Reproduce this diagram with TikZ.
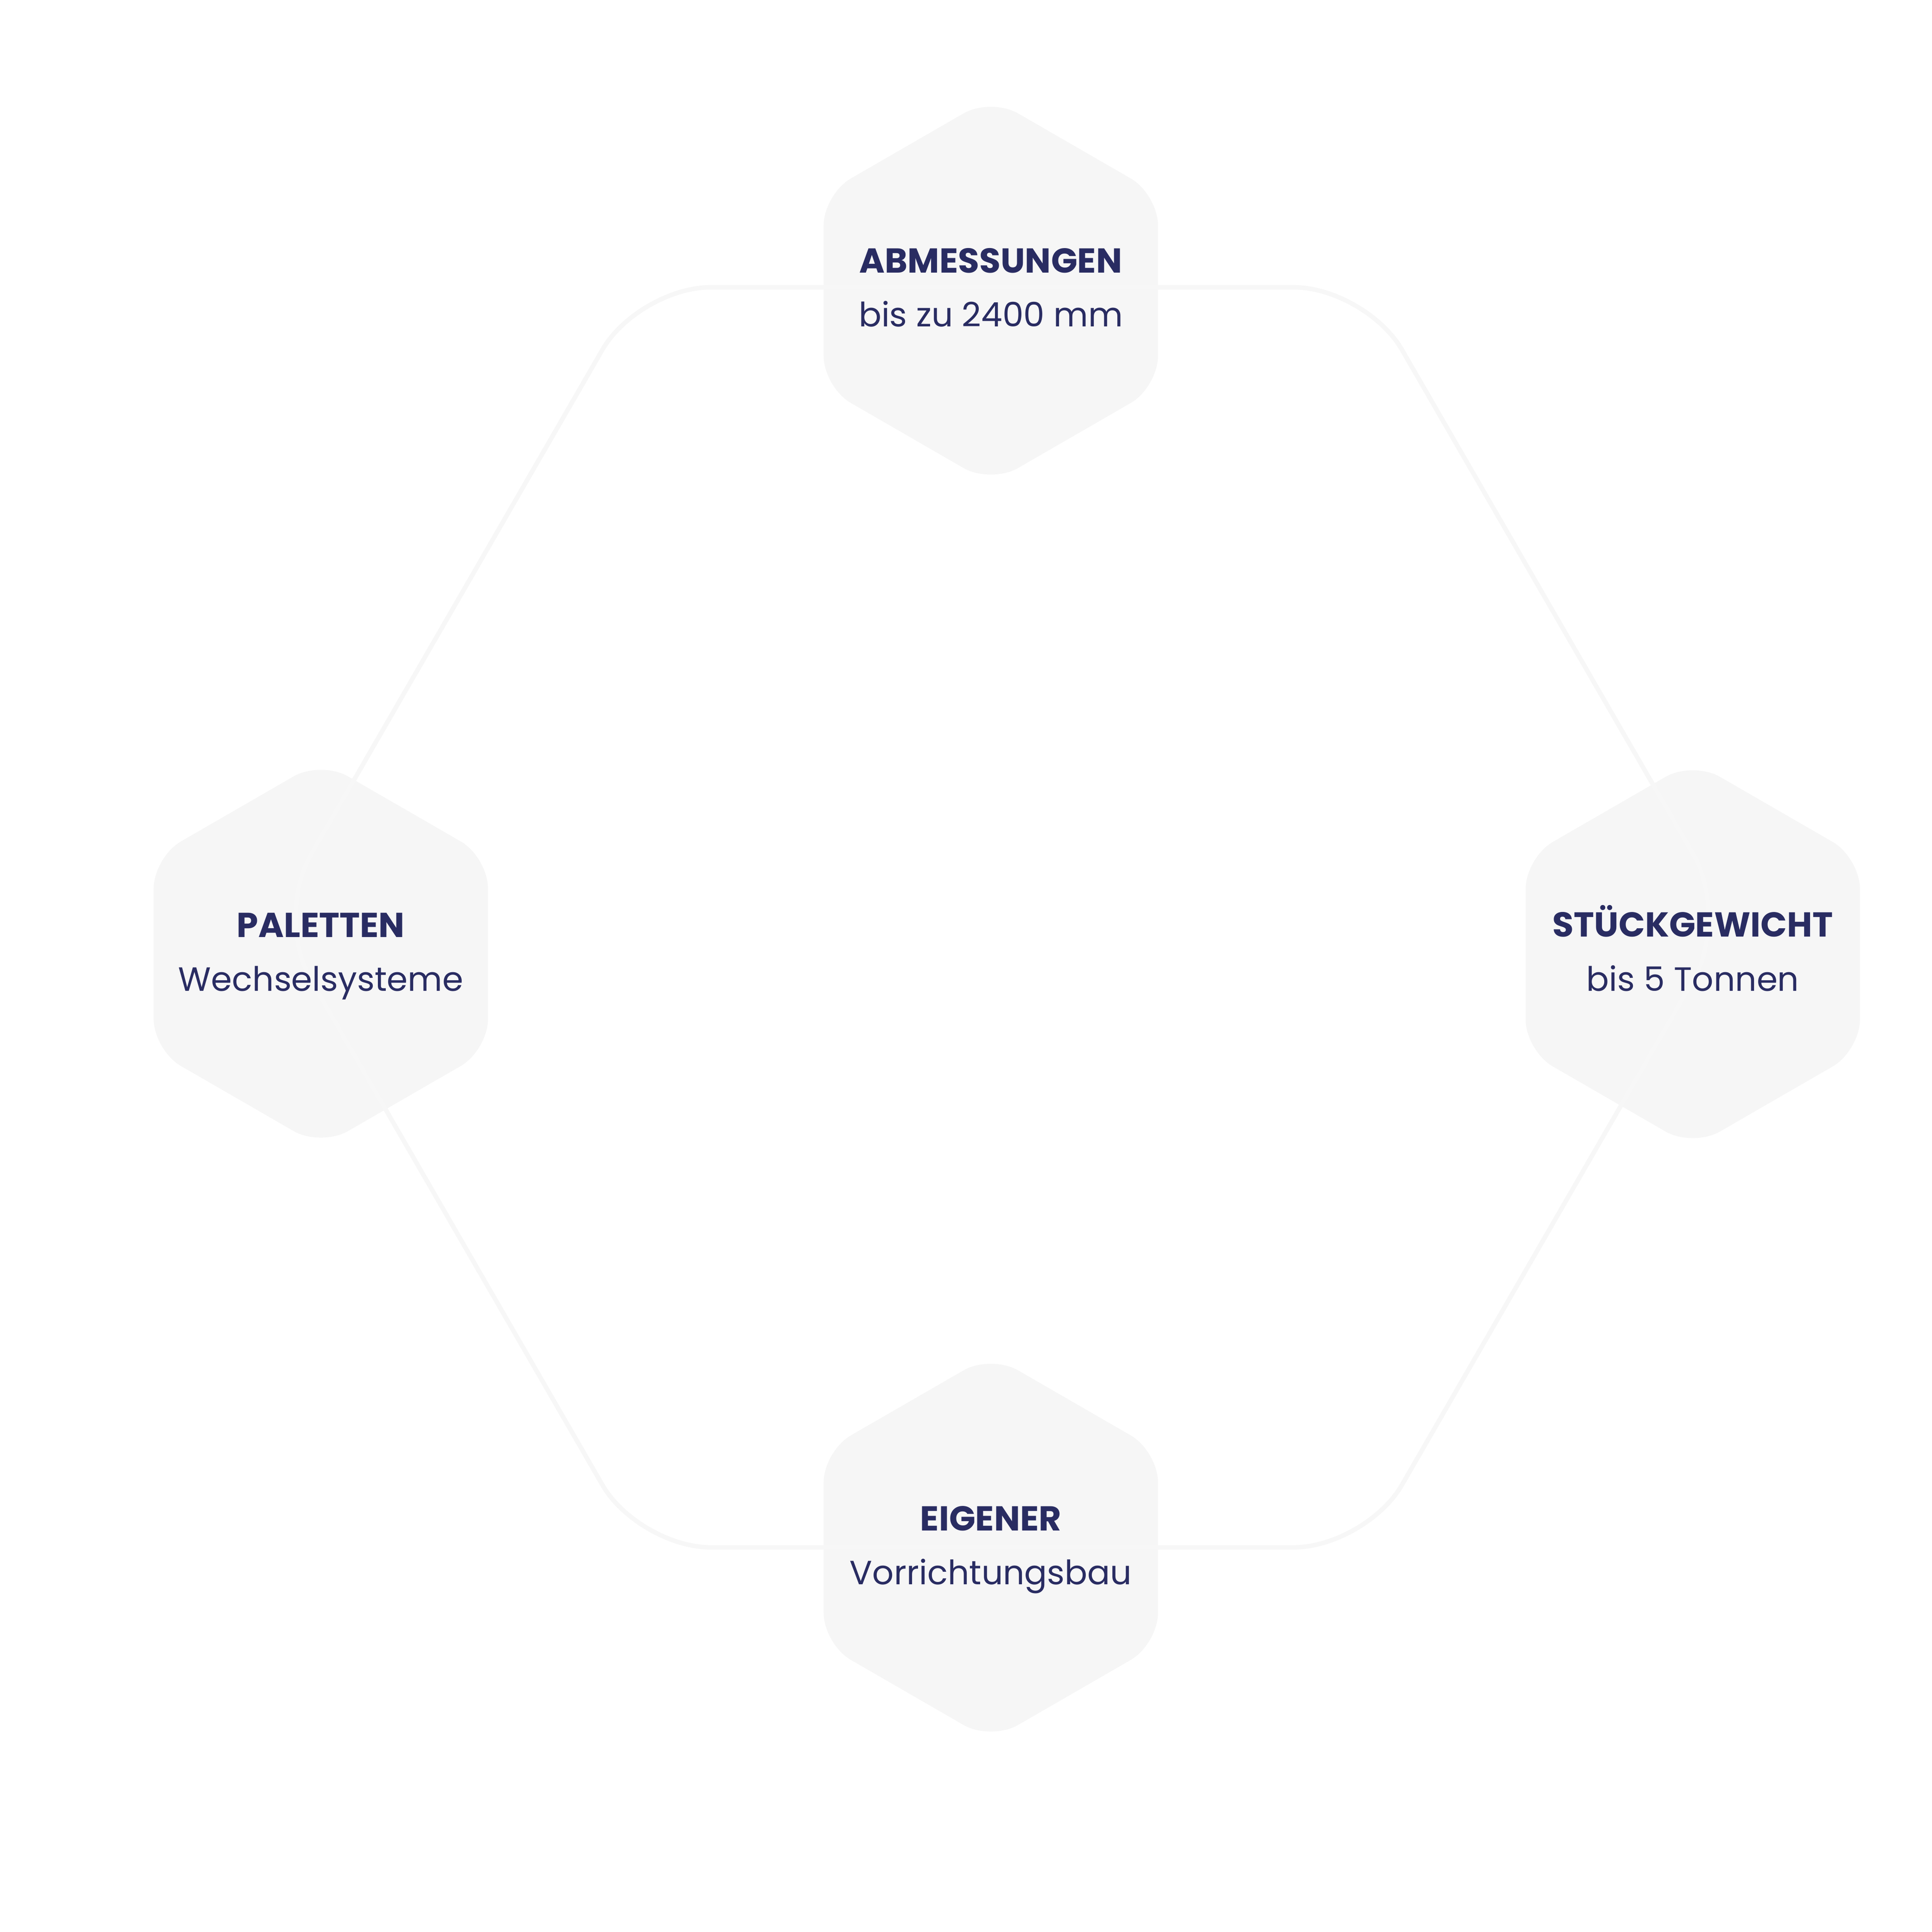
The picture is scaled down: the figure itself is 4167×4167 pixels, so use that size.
\documentclass[tikz,border=0pt]{standalone}
\usepackage{fontspec}
\setmainfont{Poppins}
\definecolor{navy}{HTML}{292C62}
\definecolor{hexfill}{HTML}{F6F6F6}
\definecolor{ringcol}{HTML}{F7F7F7}
\tikzset{
  hexshape/.style={fill=hexfill, rounded corners=16.2pt},
  ringline/.style={draw=ringcol, line width=2.3pt, rounded corners=37.2pt},
  headtxt/.style={anchor=base, inner sep=0pt, text=navy, font=\fontsize{17.9pt}{22pt}\selectfont\bfseries},
  subtxt/.style={anchor=base, inner sep=0pt, text=navy, font=\fontsize{17.4pt}{22pt}\selectfont},
}
\newcommand\hexagonat[2]{%
  \fill[hexshape, shift={(#1,#2)}] (90:416.3) -- (150:416.3) -- (210:416.3) -- (270:416.3) -- (330:416.3) -- (30:416.3) -- cycle;}
\begin{document}
\begin{tikzpicture}[x=0.24pt,y=-0.24pt]
\useasboundingbox (0,0) rectangle (4167,4167);
\fill[white] (0,0) rectangle (4167,4167);
% hexagon backgrounds
\hexagonat{2137}{627}
\hexagonat{692}{2057}
\hexagonat{3651}{2058}
\hexagonat{2137}{3338}
% ring
\coordinate (rl) at (592.5,1978.5);
\coordinate (rtl) at (1377,619.7);
\coordinate (rtr) at (2946,619.7);
\coordinate (rr) at (3730.5,1978.5);
\coordinate (rbr) at (2946,3337.3);
\coordinate (rbl) at (1377,3337.3);
\draw[ringline] (rl) -- (rtl) -- (rtr) -- (rr) -- (rbr) -- (rbl) -- cycle;
% texts
\node[headtxt] (h1) at (2137,588) {ABMESSUNGEN};
\node[subtxt] (s1) at (2137,704) {bis zu 2400 mm};
\node[headtxt] (h2) at (692,2021) {PALETTEN};
\node[subtxt] (s2) at (692,2137) {Wechselsysteme};
\node[headtxt] (h3) at (3651,2020) {STÜCKGEWICHT};
\node[subtxt] (s3) at (3651,2137) {bis 5 Tonnen};
\node[headtxt] (h4) at (2137,3301) {EIGENER};
\node[subtxt] (s4) at (2137,3417) {Vorrichtungsbau};
\end{tikzpicture}
\end{document}
